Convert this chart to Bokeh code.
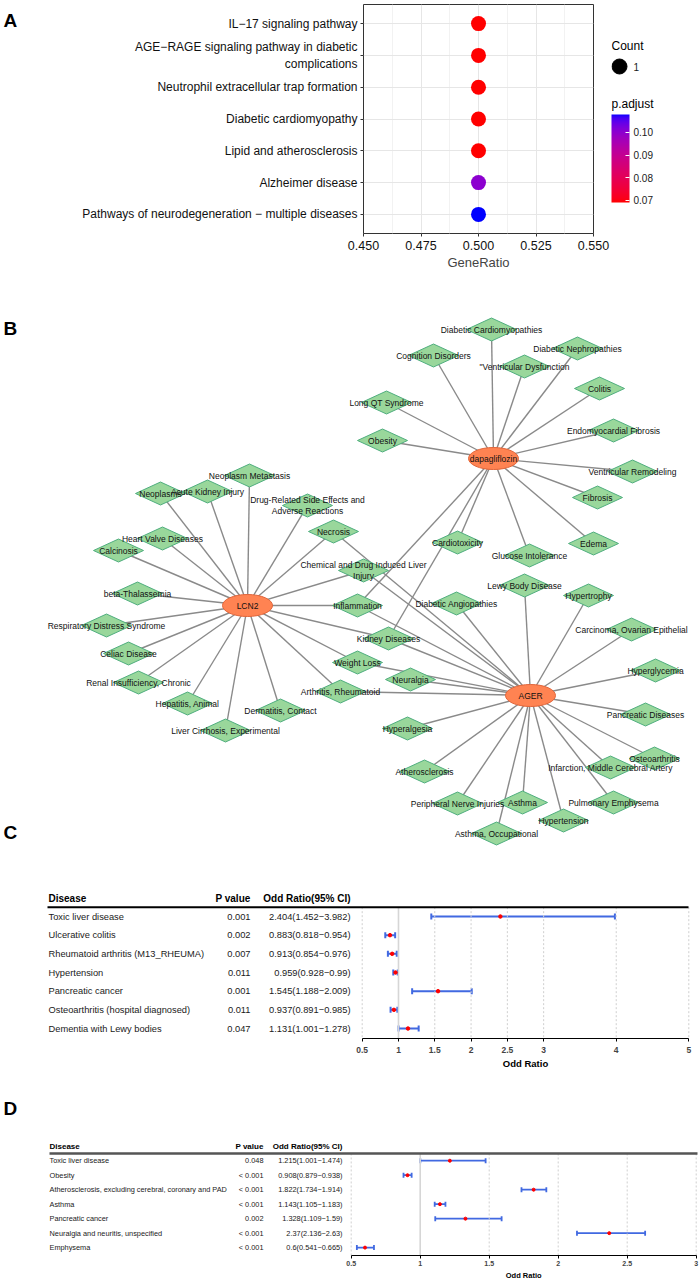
import numpy as np
from bokeh.plotting import figure
from bokeh.layouts import column, row
from bokeh.models import (Range1d, FixedTicker, LinearColorMapper, ColorBar, Title,
                          ColumnDataSource, NumeralTickFormatter, Whisker, TeeHead)
from bokeh.transform import transform
from bokeh.core.properties import value
from bokeh.embed import file_html
from bokeh.resources import INLINE

FONT = "Liberation Sans"
W = 699
PAGE_L, PAGE_R = 0, W

# ---------------- Panel A data ----------------
pathways = ["IL\u221217 signaling pathway",
            "AGE\u2212RAGE signaling pathway in diabetic\ncomplications",
            "Neutrophil extracellular trap formation",
            "Diabetic cardiomyopathy",
            "Lipid and atherosclerosis",
            "Alzheimer disease",
            "Pathways of neurodegeneration \u2212 multiple diseases"]
gene_ratio = [0.5, 0.5, 0.5, 0.5, 0.5, 0.5, 0.5]
gene_count = [1, 1, 1, 1, 1, 1, 1]
p_adjust = [0.0691, 0.0691, 0.0691, 0.0691, 0.0691, 0.1002, 0.1079]
gene_ratio_ticks = [0.450, 0.475, 0.500, 0.525, 0.550]
padj_ticks = [0.07, 0.08, 0.09, 0.10]

# ---------------- Panel B data ----------------
hub_names = ["dapagliflozin", "LCN2", "AGER"]
hub_x = [493, 247, 530]
hub_y = [458, 605, 695]
DRUG_SE = "Drug-Related Side Effects and\nAdverse Reactions"
CHEM = "Chemical and Drug Induced Liver\nInjury"
disease_names = [
    "Diabetic Cardiomyopathies", "Diabetic Nephropathies", "Cognition Disorders", "\"Ventricular Dysfunction",
    "Colitis", "Long QT Syndrome", "Endomyocardial Fibrosis", "Obesity", "Ventricular Remodeling", "Fibrosis",
    "Edema", "Glucose Intolerance", "Cardiotoxicity", "Inflammation", "Kidney Diseases",
    "Neoplasm Metastasis", "Neoplasms", "Acute Kidney Injury", DRUG_SE, "Necrosis",
    "Heart Valve Diseases", "Calcinosis", CHEM, "beta-Thalassemia", "Respiratory Distress Syndrome",
    "Celiac Disease", "Weight Loss", "Renal Insufficiency, Chronic", "Arthritis, Rheumatoid", "Hepatitis, Animal",
    "Dermatitis, Contact", "Liver Cirrhosis, Experimental", "Neuralgia", "Diabetic Angiopathies", "Lewy Body Disease",
    "Hypertrophy", "Carcinoma, Ovarian Epithelial", "Hyperglycemia", "Pancreatic Diseases", "Hyperalgesia",
    "Osteoarthritis", "Infarction, Middle Cerebral Artery", "Atherosclerosis", "Pulmonary Emphysema",
    "Peripheral Nerve Injuries", "Asthma", "Hypertension", "Asthma, Occupational"]
disease_x = [491, 577, 433, 524, 599, 386, 613, 382, 632, 597,
             593, 529, 457, 357, 388, 249, 160, 207, 307, 333,
             162, 118, 363, 137, 106, 128, 357, 138, 340, 187,
             280, 225, 410, 456, 524, 588, 631, 655, 645, 407,
             654, 610, 424, 613, 457, 522, 563, 496]
disease_y = [329, 348, 355, 366, 388, 402, 430, 440, 471, 497,
             543, 555, 542, 605, 638, 475, 493, 491, 505, 531,
             538, 550, 570, 593, 625, 653, 662, 682, 691, 703,
             710, 730, 679, 603, 585, 595, 629, 670, 714, 728,
             758, 767, 771, 802, 803, 802, 820, 833]
dapagliflozin_links = ["Diabetic Cardiomyopathies", "Diabetic Nephropathies", "Cognition Disorders",
                       "\"Ventricular Dysfunction", "Colitis", "Long QT Syndrome", "Endomyocardial Fibrosis",
                       "Obesity", "Ventricular Remodeling", "Fibrosis", "Edema", "Glucose Intolerance",
                       "Cardiotoxicity", "Inflammation", "Kidney Diseases"]
lcn2_links = ["Neoplasm Metastasis", "Neoplasms", "Acute Kidney Injury", DRUG_SE, "Necrosis",
              "Heart Valve Diseases", "Calcinosis", CHEM, "beta-Thalassemia", "Respiratory Distress Syndrome",
              "Celiac Disease", "Inflammation", "Kidney Diseases", "Weight Loss", "Renal Insufficiency, Chronic",
              "Arthritis, Rheumatoid", "Hepatitis, Animal", "Dermatitis, Contact", "Liver Cirrhosis, Experimental"]
ager_links = ["Necrosis", CHEM, "Inflammation", "Kidney Diseases", "Weight Loss", "Neuralgia",
              "Arthritis, Rheumatoid", "Diabetic Angiopathies", "Lewy Body Disease", "Hypertrophy",
              "Carcinoma, Ovarian Epithelial", "Hyperglycemia", "Pancreatic Diseases", "Hyperalgesia",
              "Osteoarthritis", "Infarction, Middle Cerebral Artery", "Atherosclerosis", "Pulmonary Emphysema",
              "Peripheral Nerve Injuries", "Asthma", "Hypertension", "Asthma, Occupational"]

# ---------------- Panel C data ----------------
diseases_c = ["Toxic liver disease", "Ulcerative colitis", "Rheumatoid arthritis (M13_RHEUMA)", "Hypertension",
              "Pancreatic cancer", "Osteoarthritis (hospital diagnosed)", "Dementia with Lewy bodies"]
pval_c = ["0.001", "0.002", "0.007", "0.011", "0.001", "0.011", "0.047"]
or_c = [2.404, 0.883, 0.913, 0.959, 1.545, 0.937, 1.131]
lo_c = [1.452, 0.818, 0.854, 0.928, 1.188, 0.891, 1.001]
hi_c = [3.982, 0.954, 0.976, 0.99, 2.009, 0.985, 1.278]
or_ticks_c = [0.5, 1, 1.5, 2, 2.5, 3, 4, 5]

# ---------------- Panel D data ----------------
diseases_d = ["Toxic liver disease", "Obesity", "Atherosclerosis, excluding cerebral, coronary and PAD", "Asthma",
              "Pancreatic cancer", "Neuralgia and neuritis, unspecified", "Emphysema"]
pval_d = ["0.048", "< 0.001", "< 0.001", "< 0.001", "0.002", "< 0.001", "< 0.001"]
or_d = [1.215, 0.908, 1.822, 1.143, 1.328, 2.37, 0.6]
lo_d = [1.001, 0.879, 1.734, 1.105, 1.109, 2.136, 0.541]
hi_d = [1.474, 0.938, 1.914, 1.183, 1.59, 2.63, 0.665]
or_ticks_d = [0.5, 1, 1.5, 2, 2.5, 3]


# ---------------- colour helpers (Lab interpolation, as ggplot does) ----------------
M_RGB = np.array([[0.4124564, 0.3575761, 0.1804375],
                  [0.2126729, 0.7151522, 0.0721750],
                  [0.0193339, 0.1191920, 0.9503041]])
WHITE = np.array([0.95047, 1.0, 1.08883])
D6 = 6 / 29


def hex_to_lab(h):
    c = np.array([int(h[i:i + 2], 16) for i in (1, 3, 5)]) / 255.0
    c = np.where(c <= 0.04045, c / 12.92, ((c + 0.055) / 1.055) ** 2.4)
    t = (M_RGB @ c) / WHITE
    f = np.where(t > D6 ** 3, np.cbrt(t), t / (3 * D6 ** 2) + 4 / 29)
    return np.array([116 * f[1] - 16, 500 * (f[0] - f[1]), 200 * (f[1] - f[2])])


def lab_to_hex(lab):
    L, a, b = lab
    fy = (L + 16) / 116
    f = np.array([fy + a / 500, fy, fy - b / 200])
    t = np.where(f > D6, f ** 3, 3 * D6 ** 2 * (f - 4 / 29))
    c = np.linalg.inv(M_RGB) @ (t * WHITE)
    c = np.clip(c, 0, 1)
    c = np.where(c <= 0.0031308, 12.92 * c, 1.055 * c ** (1 / 2.4) - 0.055)
    r, g, bb = (np.clip(c, 0, 1) * 255).round().astype(int)
    return "#%02x%02x%02x" % (r, g, bb)


lab_lo, lab_hi = hex_to_lab("#ff0000"), hex_to_lab("#0000ff")
palette = [lab_to_hex(lab_lo + (lab_hi - lab_lo) * t) for t in np.linspace(0, 1, 256)]
mapper = LinearColorMapper(palette=palette, low=min(p_adjust), high=max(p_adjust))


def no_align(p):
    try:
        p.frame_align = False
    except Exception:
        pass
    return p


def text_kw(size, style="normal", align="left", color="#111111"):
    return dict(text_font=value(FONT), text_font_size=size, text_font_style=style,
                text_align=align, text_baseline="middle", text_color=color)


# =====================================================================
# Panel A : enrichment dot plot  (letter | plot | legend)
# =====================================================================
A_H, A_T, A_B = 272, 4, 34
LET_W = 20
A_L = 363 - LET_W
A_R = 18
A_FW = 230
A_W = A_L + A_FW + A_R
LEG_W = W - LET_W - A_W
frame_top_page = A_T
frame_bot_page = A_H - A_B

fig_letA = no_align(figure(width=LET_W, height=A_H, output_backend="svg", toolbar_location=None,
                           x_range=Range1d(0, LET_W),
                           y_range=Range1d(frame_bot_page, frame_top_page),
                           x_axis_type=None, y_axis_type=None,
                           min_border_left=0, min_border_right=0, min_border_top=A_T, min_border_bottom=A_B))
fig_letA.outline_line_color = None
fig_letA.text(x=[3], y=[20], text=["A"], **text_kw("19px", "bold", color="black"))

nA = len(pathways)
rowsA = list(range(nA, 0, -1))
pA = no_align(figure(width=A_W, height=A_H, output_backend="svg", toolbar_location=None,
                     x_range=Range1d(gene_ratio_ticks[0], gene_ratio_ticks[-1]),
                     y_range=Range1d(0.4, nA + 0.6),
                     min_border_left=A_L, min_border_right=A_R, min_border_top=A_T, min_border_bottom=A_B))
srcA = ColumnDataSource(dict(x=gene_ratio, y=rowsA, padj=p_adjust, n=gene_count))
pA.scatter("x", "y", source=srcA, size=15, fill_color=transform("padj", mapper), line_color=None)

minorA = [(a + b) / 2 for a, b in zip(gene_ratio_ticks[:-1], gene_ratio_ticks[1:])]
pA.xaxis.ticker = FixedTicker(ticks=gene_ratio_ticks, minor_ticks=minorA)
pA.xaxis.formatter = NumeralTickFormatter(format="0.000")
pA.yaxis.ticker = FixedTicker(ticks=rowsA)
pA.yaxis.major_label_overrides = {r: name for r, name in zip(rowsA, pathways)}
for ax in (pA.xaxis[0], pA.yaxis[0]):
    ax.axis_line_color = None
    ax.major_tick_line_color = "#333333"
    ax.major_tick_out = 3
    ax.major_tick_in = 0
    ax.minor_tick_line_color = None
    ax.major_label_text_font = FONT
    ax.major_label_text_font_size = "12px"
    ax.major_label_text_color = "#111111"
    ax.major_label_standoff = 3
pA.xaxis.major_label_text_font_size = "12.5px"
pA.xaxis.axis_label = "GeneRatio"
pA.xaxis.axis_label_text_font = FONT
pA.xaxis.axis_label_text_font_size = "13px"
pA.xaxis.axis_label_text_font_style = "normal"
pA.xaxis.axis_label_standoff = 2
pA.xgrid.grid_line_color = "#E6E6E6"
pA.xgrid.minor_grid_line_color = "#F2F2F2"
pA.ygrid.grid_line_color = "#E6E6E6"
pA.outline_line_color = "#333333"
pA.outline_line_width = 1

# legend figure (Count key + p.adjust colour bar)
leg_l = LET_W + A_W
fig_leg = no_align(figure(width=LEG_W, height=A_H, output_backend="svg", toolbar_location=None,
                          x_range=Range1d(leg_l, PAGE_R),
                          y_range=Range1d(frame_bot_page, frame_top_page),
                          x_axis_type=None, y_axis_type=None,
                          min_border_left=0, min_border_right=0, min_border_top=A_T, min_border_bottom=A_B))
fig_leg.outline_line_color = None
fig_leg.text(x=[leg_l], y=[45], text=["Count"], **text_kw("12px", color="black"))
fig_leg.scatter(x=[leg_l + 8], y=[66], size=15, color="black")
fig_leg.text(x=[leg_l + 22], y=[66], text=[str(max(gene_count))], **text_kw("10px", color="#1A1A1A"))
fig_leg.text(x=[leg_l], y=[103], text=["p.adjust"], **text_kw("12px", color="black"))
cb = ColorBar(color_mapper=mapper, location=(0, frame_bot_page - 202), width=18, height=88,
              ticker=FixedTicker(ticks=padj_ticks), formatter=NumeralTickFormatter(format="0.00"),
              major_label_text_font=FONT, major_label_text_font_size="10px",
              major_label_text_color="#1A1A1A",
              major_tick_line_color="white", major_tick_in=4, major_tick_out=0,
              bar_line_color=None, padding=0, margin=0, label_standoff=4,
              background_fill_alpha=0, border_line_color=None)
fig_leg.add_layout(cb)

rowA = row(fig_letA, pA, fig_leg, spacing=0)

# =====================================================================
# Panel B : network
# =====================================================================
B_TOP, B_BOT = A_H, 846
pB = no_align(figure(width=W, height=B_BOT - B_TOP, output_backend="svg", toolbar_location=None,
                     x_range=Range1d(PAGE_L, PAGE_R), y_range=Range1d(B_BOT, B_TOP),
                     x_axis_type=None, y_axis_type=None, min_border=0))
pB.outline_line_color = None
pos = {n: (x, y) for n, x, y in zip(hub_names + disease_names, hub_x + disease_x, hub_y + disease_y)}
links = ([("dapagliflozin", d) for d in dapagliflozin_links] +
         [("LCN2", d) for d in lcn2_links] + [("AGER", d) for d in ager_links])
pB.segment(x0=[pos[a][0] for a, b in links], y0=[pos[a][1] for a, b in links],
           x1=[pos[b][0] for a, b in links], y1=[pos[b][1] for a, b in links],
           line_color="#8A8A8A", line_width=1.4)
DW, DH = 50, 23
pB.patches(xs=[[x - DW / 2, x, x + DW / 2, x] for x in disease_x],
           ys=[[y, y - DH / 2, y, y + DH / 2] for y in disease_y],
           fill_color="#99D79B", line_color="#4FAE7E", line_width=1)
pB.ellipse(x=hub_x, y=hub_y, width=50, height=22, fill_color="#FF8352", line_color="#E0653A", line_width=1)
pB.text(x=disease_x, y=disease_y, text=disease_names, text_line_height=1.05,
        **text_kw("8.5px", align="center"))
pB.text(x=hub_x, y=hub_y, text=hub_names, **text_kw("8.5px", align="center"))
pB.text(x=[3, 3], y=[328, 832], text=["B", "C"], **text_kw("19px", "bold", color="black"))


# =====================================================================
# Forest plot helper (panels C and D); frame spans the full width
# =====================================================================
def forest(height, page_top, b_top, b_bottom, ticks, tick0_page, tick1_page, row_y1, row_gap,
           col_dis, col_p, col_or, line_l, line_r, diseases, pvals, ors, los, his,
           fs, hfs, line_col, line_w, tick_fs, lab_fs, cap, bar_w, tick_standoff, dot, letter=None):
    n = len(diseases)
    rows = list(range(1, n + 1))
    frame_top = page_top + b_top
    frame_bot = page_top + height - b_bottom
    r_top = 1 + (frame_top - row_y1) / row_gap
    r_bot = 1 + (frame_bot - row_y1) / row_gap
    scale = (tick1_page - tick0_page) / (ticks[-1] - ticks[0])
    x0 = ticks[0] - (tick0_page - PAGE_L) / scale
    x1 = ticks[-1] + (PAGE_R - tick1_page) / scale
    p = no_align(figure(width=W, height=height, output_backend="svg", toolbar_location=None,
                        x_range=Range1d(x0, x1), y_range=Range1d(r_bot, r_top), y_axis_type=None,
                        min_border_left=0, min_border_right=0,
                        min_border_top=b_top, min_border_bottom=b_bottom))
    p.extra_x_ranges = {"tab": Range1d(PAGE_L, PAGE_R)}
    p.outline_line_color = None
    p.xgrid.visible = False
    hl = 0.5
    others = [t for t in ticks if t != 1]
    p.segment(x0=others, x1=others, y0=[hl] * len(others), y1=[r_bot] * len(others),
              line_color="#CFCFCF", line_dash="2 2", line_width=1)
    p.segment(x0=[1], x1=[1], y0=[hl], y1=[r_bot], line_color="#D6D6D6", line_width=1.6)
    p.segment(x0=[line_l], x1=[line_r], y0=[hl], y1=[hl], x_range_name="tab",
              line_color=line_col, line_width=line_w)
    p.text(x=[col_dis] * n, y=rows, text=diseases, x_range_name="tab", **text_kw(fs, color="#1A1A1A"))
    p.text(x=[col_p] * n, y=rows, text=pvals, x_range_name="tab", **text_kw(fs, align="right", color="#1A1A1A"))
    or_txt = [f"{o}({l}\u2212{h})" for o, l, h in zip(ors, los, his)]
    p.text(x=[col_or] * n, y=rows, text=or_txt, x_range_name="tab",
           **text_kw(fs, align="right", color="#1A1A1A"))
    p.text(x=[col_dis], y=[0.03], text=["Disease"], x_range_name="tab", **text_kw(hfs, "bold", color="black"))
    p.text(x=[col_p], y=[0.03], text=["P value"], x_range_name="tab",
           **text_kw(hfs, "bold", "right", color="black"))
    p.text(x=[col_or], y=[0.03], text=["Odd Ratio(95% CI)"], x_range_name="tab",
           **text_kw(hfs, "bold", "right", color="black"))
    src = ColumnDataSource(dict(row=rows, orv=ors, lo=los, hi=his))
    p.add_layout(Whisker(source=src, base="row", lower="lo", upper="hi", dimension="width",
                         line_color="#4169E1", line_width=bar_w,
                         upper_head=TeeHead(size=cap, line_color="#4169E1", line_width=bar_w),
                         lower_head=TeeHead(size=cap, line_color="#4169E1", line_width=bar_w)))
    p.scatter("orv", "row", source=src, size=dot, color="#FF0000")
    ax = p.xaxis[0]
    ax.ticker = FixedTicker(ticks=ticks)
    ax.bounds = (ticks[0], ticks[-1])
    ax.formatter = NumeralTickFormatter(format="0.[0]")
    ax.axis_line_color = "black"
    ax.major_tick_line_color = "black"
    ax.major_tick_out = 3
    ax.major_tick_in = 0
    ax.minor_tick_line_color = None
    ax.major_label_text_font = FONT
    ax.major_label_text_font_style = "bold"
    ax.major_label_text_font_size = tick_fs
    ax.major_label_standoff = tick_standoff
    # axis title centred under the axis span (not the whole frame)
    lab_px = float(lab_fs.replace("px", ""))
    centre = (tick0_page + tick1_page) / 2
    offset = centre - PAGE_L - 4.78 * lab_px / 2
    p.add_layout(Title(text="Odd Ratio", align="left", offset=offset, standoff=0,
                       text_font=FONT, text_font_size=lab_fs, text_font_style="bold",
                       text_color="black"), "below")
    if letter is not None:
        p.text(x=[3], y=[1 + (letter[1] - row_y1) / row_gap], text=[letter[0]], x_range_name="tab",
               **text_kw("19px", "bold", color="black"))
    return p


pC = forest(226, 846, 44, 34, or_ticks_c, 361.7, 688.3, 916, 18.67,
            48, 250, 350, 47, 688, diseases_c, pval_c, or_c, lo_c, hi_c,
            "9.3px", "10px", "black", 2, "8.5px", "9.5px", 6, 2, 5, 3.5)
pD = forest(207, 1072, 26, 22, or_ticks_d, 350.7, 695.7, 1161, 14.67,
            49, 263, 342, 49, 697, diseases_d, pval_d, or_d, lo_d, hi_d,
            "7.35px", "8px", "#555555", 2.5, "7px", "7.5px", 5, 1.8, 2, 3, letter=("D", 1108))

layout = column(rowA, pB, pC, pD, spacing=0)
open("out.html", "w").write(file_html(layout, INLINE, "plot"))
